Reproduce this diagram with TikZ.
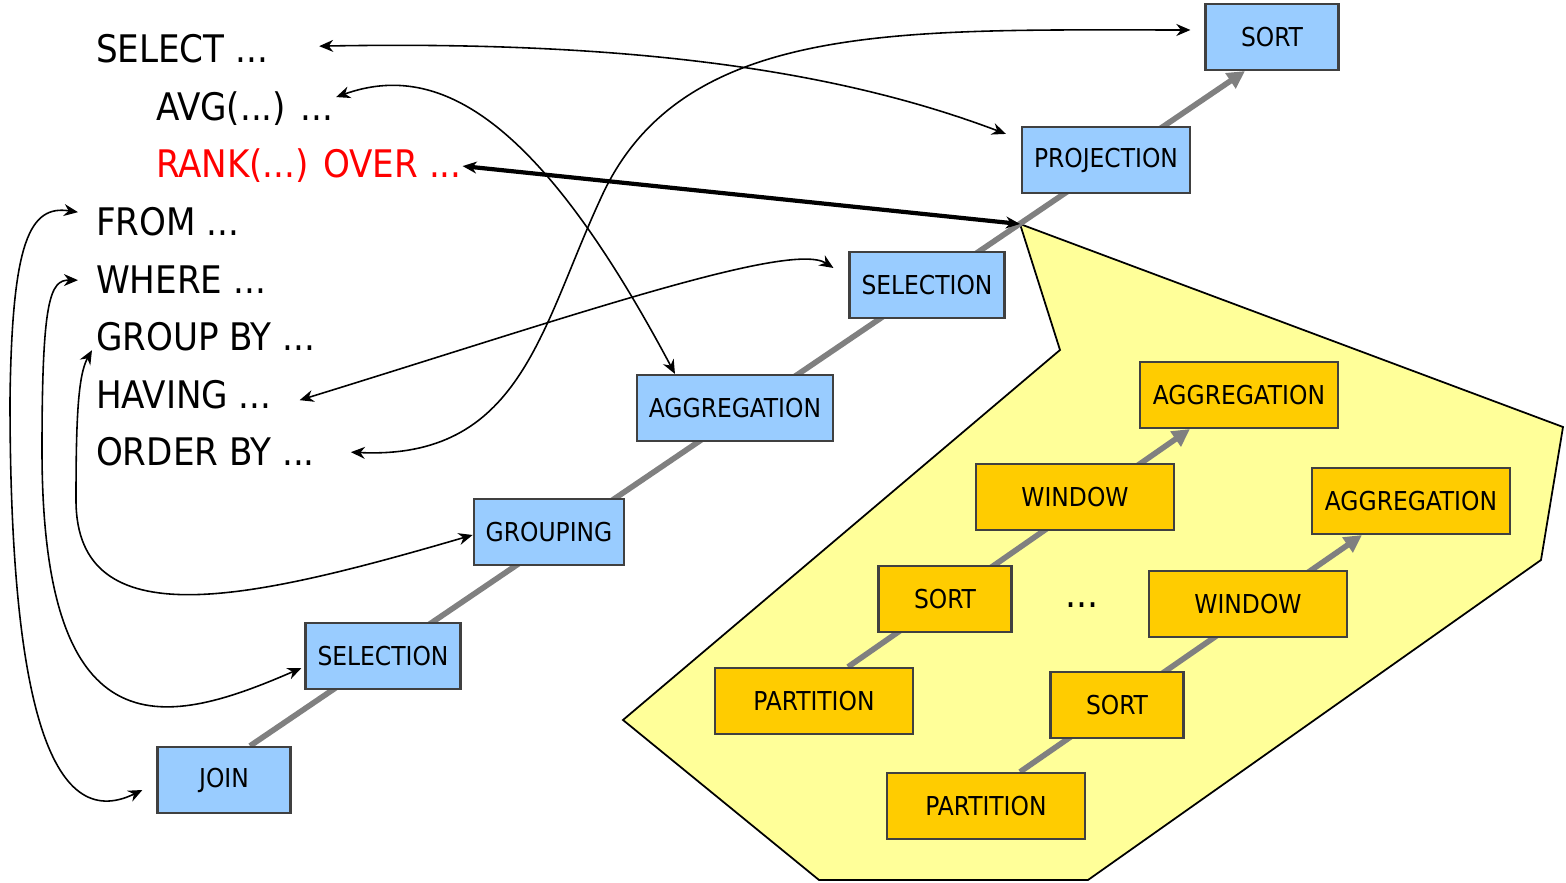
\documentclass[tikz,border=0pt]{standalone}
\usepackage{fontspec}
\setmainfont{DejaVu Sans Condensed}
\usetikzlibrary{arrows.meta, backgrounds}

\definecolor{opblue}{HTML}{99CCFF}
\definecolor{opgold}{HTML}{FFCC00}
\definecolor{zone}{HTML}{FFFF99}
\definecolor{flow}{HTML}{808080}

\begin{document}
\begin{tikzpicture}[x=0.01cm,y=-0.01cm,>={Stealth[length=4pt,width=3.4pt]},semithick]
\tikzstyle{box}=[draw=black!75,line width=0.6pt,minimum width=1.33cm,minimum height=0.66cm,inner xsep=0.12cm,font=\fontsize{7.4}{8}\selectfont]
\tikzstyle{bluebox}=[box,fill=opblue]
\tikzstyle{goldbox}=[box,fill=opgold]
\tikzstyle{wide}=[minimum width=1.98cm]
\tikzstyle{clause}=[anchor=base west,inner sep=0pt,font=\fontsize{10.8}{12}\selectfont]
\tikzstyle{link}=[<->,line width=0.45pt]
\tikzstyle{flowline}=[-{Triangle[length=5pt,width=5pt]},draw=flow,line width=1.6pt]
\useasboundingbox (0,0) rectangle (1566,883);

% query clauses
\node[clause] (select) at (95,63) {SELECT ...};
\node[clause] (avg) at (155,121) {AVG(...) ...};
\node[clause,text=red] (rank) at (155,178) {RANK(...) OVER ...};
\node[clause] (from) at (95,236) {FROM ...};
\node[clause] (where) at (95,294) {WHERE ...};
\node[clause] (groupby) at (95,351) {GROUP BY ...};
\node[clause] (having) at (95,409) {HAVING ...};
\node[clause] (orderby) at (95,466) {ORDER BY ...};

% main plan
\node[bluebox] (join) at (224,780) {JOIN};
\node[bluebox] (sel1) at (383,656) {SELECTION};
\node[bluebox] (grouping) at (549,532) {GROUPING};
\node[bluebox] (aggregation) at (735,408) {AGGREGATION};
\node[bluebox] (sel2) at (927,285) {SELECTION};
\node[bluebox] (projection) at (1106,160) {PROJECTION};
\node[bluebox] (sort) at (1272,37) {SORT};

% window part
\coordinate (tip) at (1020,224);
\node[goldbox,wide] (part1) at (814,701) {PARTITION};
\node[goldbox] (sort1) at (945,599) {SORT};
\node[goldbox,wide] (win1) at (1075,497) {WINDOW};
\node[goldbox,wide] (agg1) at (1239,395) {AGGREGATION};
\node[goldbox,wide] (part2) at (986,806) {PARTITION};
\node[goldbox] (sort2) at (1117,705) {SORT};
\node[goldbox,wide] (win2) at (1248,604) {WINDOW};
\node[goldbox,wide] (agg2) at (1411,501) {AGGREGATION};
\node[font=\fontsize{11}{12}\selectfont] (dots) at (1082,605) {...};

\begin{scope}[on background layer]
\draw[fill=zone,line width=0.5pt] (tip) -- (1060,350) -- (623,720) -- (819,880) -- (1088,880) -- (1541,560) -- (1563,427) -- cycle;
\draw[flowline] ([xshift=0.26cm]join.north) -- ([xshift=-0.27cm]sort.south);
\draw[flowline] ([xshift=0.34cm]part1.north) -- ([xshift=-0.49cm]agg1.south);
\draw[flowline] ([xshift=0.34cm]part2.north) -- ([xshift=-0.49cm]agg2.south);
\end{scope}

\draw[link] ([xshift=0.5cm,yshift=0.03cm]select.east) .. controls (650,40) and (850,75) .. ([xshift=-0.15cm,yshift=-0.08cm]projection.north west);
\draw[link] ([xshift=0.02cm,yshift=0.12cm]avg.east) .. controls (440,60) and (540,120) .. ([xshift=-0.6cm]aggregation.north);
\draw[link,line width=1.2pt] (rank.east) -- (tip);
\draw[link] ([xshift=-0.17cm,yshift=0.1cm]from.west) .. controls (30,205) and (12,240) .. (10,400) .. controls (10,700) and (50,835) .. ([xshift=-0.14cm,yshift=-0.1cm]join.west);
\draw[link] ([xshift=-0.17cm]where.west) .. controls (50,280) and (42,300) .. (42,450) .. controls (42,760) and (170,725) .. ([xshift=-0.03cm,yshift=-0.12cm]sel1.west);
\draw[link] ([xshift=-0.03cm,yshift=-0.13cm]groupby.west) .. controls (78,375) and (76,420) .. (76,500) .. controls (76,640) and (250,600) .. ([yshift=-0.03cm]grouping.west);
\draw[link] ([xshift=0.27cm,yshift=-0.05cm]having.east) .. controls (560,320) and (790,240) .. ([xshift=-0.15cm,yshift=0.17cm]sel2.west);
\draw[link] ([xshift=0.35cm]orderby.east) .. controls (520,460) and (540,330) .. (600,200) .. controls (680,20) and (900,30) .. ([xshift=-0.14cm,yshift=0.07cm]sort.west);
\end{tikzpicture}
\end{document}
